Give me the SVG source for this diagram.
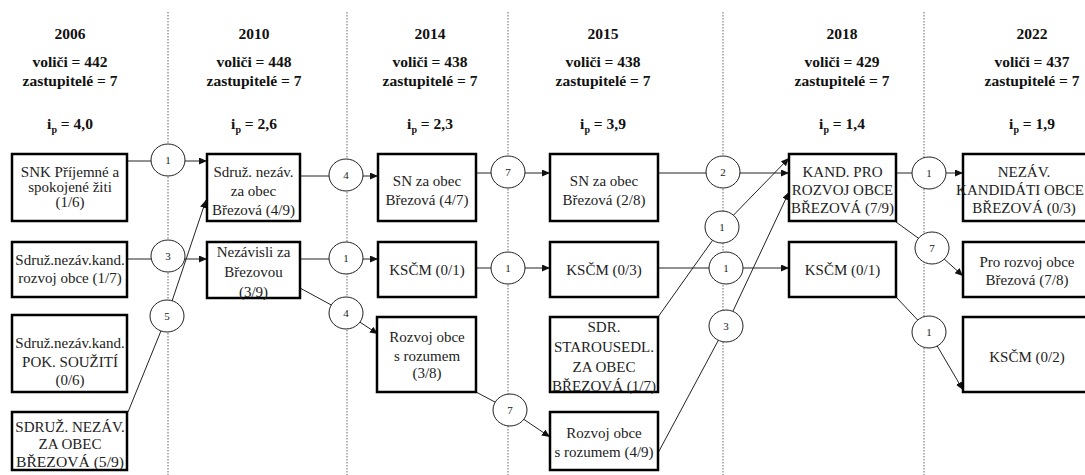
<svg xmlns="http://www.w3.org/2000/svg" width="1085" height="475" viewBox="0 0 1085 475">
<style>
.grid{stroke:#666;stroke-width:1;stroke-dasharray:1.5 1.5}
.box{fill:#fff;stroke:#000;stroke-width:2.5}
.c{fill:#fff;stroke:#222;stroke-width:1}
.ln{stroke:#222;stroke-width:1;fill:none}
.arr{marker-end:url(#ah)}
text{font-family:'Liberation Serif','DejaVu Serif',serif}
.t{font-size:15px;text-anchor:middle;fill:#222}
.h{font-size:15.5px;font-weight:bold;text-anchor:middle;fill:#111}
.ct{font-size:11px;text-anchor:middle;fill:#222}
</style>
<defs>
<marker id="ah" markerUnits="userSpaceOnUse" markerWidth="9" markerHeight="8" refX="8" refY="3.5" orient="auto">
<path d="M0,0 L8,3.5 L0,7 Z" fill="#111"/>
</marker>
</defs>
<rect width="1085" height="475" fill="#fff"/>
<g id="grid">
<line class="grid" x1="168" y1="12" x2="168" y2="475"/>
<line class="grid" x1="347" y1="12" x2="347" y2="475"/>
<line class="grid" x1="508" y1="12" x2="508" y2="475"/>
<line class="grid" x1="723" y1="12" x2="723" y2="475"/>
<line class="grid" x1="924" y1="12" x2="924" y2="475"/>
</g>
<g id="headers">
<text class="h" x="70" y="39">2006</text>
<text class="h" x="70" y="67">voliči = 442</text>
<text class="h" x="70" y="86">zastupitelé = 7</text>
<text class="h" x="70" y="129">i<tspan font-size="10" dy="4">p</tspan><tspan dy="-4"> = 4,0</tspan></text>
<text class="h" x="254" y="39">2010</text>
<text class="h" x="254" y="67">voliči = 448</text>
<text class="h" x="254" y="86">zastupitelé = 7</text>
<text class="h" x="254" y="129">i<tspan font-size="10" dy="4">p</tspan><tspan dy="-4"> = 2,6</tspan></text>
<text class="h" x="430" y="39">2014</text>
<text class="h" x="430" y="67">voliči = 438</text>
<text class="h" x="430" y="86">zastupitelé = 7</text>
<text class="h" x="430" y="129">i<tspan font-size="10" dy="4">p</tspan><tspan dy="-4"> = 2,3</tspan></text>
<text class="h" x="603" y="39">2015</text>
<text class="h" x="603" y="67">voliči = 438</text>
<text class="h" x="603" y="86">zastupitelé = 7</text>
<text class="h" x="603" y="129">i<tspan font-size="10" dy="4">p</tspan><tspan dy="-4"> = 3,9</tspan></text>
<text class="h" x="842" y="39">2018</text>
<text class="h" x="842" y="67">voliči = 429</text>
<text class="h" x="842" y="86">zastupitelé = 7</text>
<text class="h" x="842" y="129">i<tspan font-size="10" dy="4">p</tspan><tspan dy="-4"> = 1,4</tspan></text>
<text class="h" x="1032" y="39">2022</text>
<text class="h" x="1032" y="67">voliči = 437</text>
<text class="h" x="1032" y="86">zastupitelé = 7</text>
<text class="h" x="1032" y="129">i<tspan font-size="10" dy="4">p</tspan><tspan dy="-4"> = 1,9</tspan></text>
</g>
<g id="connectors">
<line class="ln" x1="127" y1="161" x2="168" y2="161"/>
<line class="ln arr" x1="168" y1="161" x2="207" y2="161"/>
<line class="ln" x1="127" y1="259" x2="168" y2="259"/>
<line class="ln arr" x1="168" y1="259" x2="207" y2="259"/>
<line class="ln" x1="128" y1="412" x2="167" y2="316"/>
<line class="ln arr" x1="167" y1="316" x2="206" y2="200"/>
<line class="ln" x1="300" y1="176" x2="346" y2="176"/>
<line class="ln arr" x1="346" y1="176" x2="378" y2="176"/>
<line class="ln" x1="300" y1="259" x2="346" y2="259"/>
<line class="ln arr" x1="346" y1="259" x2="378" y2="259"/>
<line class="ln" x1="300" y1="288" x2="346" y2="313"/>
<line class="ln arr" x1="346" y1="313" x2="378" y2="334"/>
<line class="ln" x1="476" y1="173" x2="508" y2="173"/>
<line class="ln arr" x1="508" y1="173" x2="550" y2="173"/>
<line class="ln" x1="476" y1="268" x2="508" y2="268"/>
<line class="ln arr" x1="508" y1="268" x2="550" y2="268"/>
<line class="ln" x1="476" y1="392" x2="510" y2="410"/>
<line class="ln arr" x1="510" y1="410" x2="550" y2="437"/>
<line class="ln" x1="658" y1="173" x2="723" y2="173"/>
<line class="ln arr" x1="723" y1="173" x2="789" y2="173"/>
<line class="ln" x1="658" y1="317" x2="722" y2="227"/>
<line class="ln arr" x1="722" y1="227" x2="789" y2="158"/>
<line class="ln" x1="658" y1="268" x2="726" y2="268"/>
<line class="ln arr" x1="726" y1="268" x2="789" y2="268"/>
<line class="ln" x1="658" y1="453" x2="726" y2="326"/>
<line class="ln arr" x1="726" y1="326" x2="789" y2="192"/>
<line class="ln" x1="896" y1="173" x2="929" y2="173"/>
<line class="ln arr" x1="929" y1="173" x2="963" y2="173"/>
<line class="ln" x1="896" y1="222" x2="932" y2="248"/>
<line class="ln arr" x1="932" y1="248" x2="963" y2="276"/>
<line class="ln" x1="896" y1="297" x2="929" y2="332"/>
<line class="ln arr" x1="929" y1="332" x2="963" y2="390"/>
<g id="flows">
<ellipse class="c" cx="168" cy="160" rx="17" ry="16"/><text class="ct" x="168" y="164">1</text>
<ellipse class="c" cx="168" cy="256" rx="17" ry="16"/><text class="ct" x="168" y="260">3</text>
<ellipse class="c" cx="167" cy="316" rx="17" ry="16"/><text class="ct" x="167" y="320">5</text>
<ellipse class="c" cx="346" cy="175" rx="17" ry="16"/><text class="ct" x="346" y="179">4</text>
<ellipse class="c" cx="346" cy="258" rx="17" ry="16"/><text class="ct" x="346" y="262">1</text>
<ellipse class="c" cx="346" cy="313" rx="17" ry="16"/><text class="ct" x="346" y="317">4</text>
<ellipse class="c" cx="508" cy="172" rx="17" ry="16"/><text class="ct" x="508" y="176">7</text>
<ellipse class="c" cx="508" cy="268" rx="17" ry="16"/><text class="ct" x="508" y="272">1</text>
<ellipse class="c" cx="510" cy="410" rx="17" ry="16"/><text class="ct" x="510" y="414">7</text>
<ellipse class="c" cx="723" cy="172" rx="17" ry="16"/><text class="ct" x="723" y="176">2</text>
<ellipse class="c" cx="722" cy="227" rx="17" ry="16"/><text class="ct" x="722" y="231">1</text>
<ellipse class="c" cx="726" cy="268" rx="17" ry="16"/><text class="ct" x="726" y="272">1</text>
<ellipse class="c" cx="726" cy="326" rx="17" ry="16"/><text class="ct" x="726" y="330">3</text>
<ellipse class="c" cx="929" cy="173" rx="17" ry="16"/><text class="ct" x="929" y="177">1</text>
<ellipse class="c" cx="932" cy="248" rx="17" ry="16"/><text class="ct" x="932" y="252">7</text>
<ellipse class="c" cx="929" cy="332" rx="17" ry="16"/><text class="ct" x="929" y="336">1</text>
</g>
</g>
<g id="n2006a"><rect class="box" x="12" y="154" width="115" height="67"/>
<text class="t" x="70" y="177">SNK Příjemné a</text><text class="t" x="70" y="192">spokojené žiti</text><text class="t" x="70" y="207">(1/6)</text></g>
<g id="n2006b"><rect class="box" x="12" y="242" width="115" height="55"/>
<text class="t" x="70" y="265">Sdruž.nezáv.kand.</text><text class="t" x="70" y="283">rozvoj obce (1/7)</text></g>
<g id="n2006c"><rect class="box" x="12" y="315" width="115" height="77"/>
<text class="t" x="70" y="348">Sdruž.nezáv.kand.</text><text class="t" x="70" y="367">POK. SOUŽITÍ</text><text class="t" x="70" y="385">(0/6)</text></g>
<g id="n2006d"><rect class="box" x="12" y="412" width="115" height="58"/>
<text class="t" x="70" y="432">SDRUŽ. NEZÁV.</text><text class="t" x="70" y="449">ZA OBEC</text><text class="t" x="70" y="467" textLength="108" lengthAdjust="spacingAndGlyphs">BŘEZOVÁ (5/9)</text></g>
<g id="n2010a"><rect class="box" x="207" y="154" width="93" height="67"/>
<text class="t" x="253.5" y="177">Sdruž. nezáv.</text><text class="t" x="253.5" y="196">za obec</text><text class="t" x="253.5" y="215">Březová (4/9)</text></g>
<g id="n2010b"><rect class="box" x="207" y="242" width="93" height="56"/>
<text class="t" x="253.5" y="257">Nezávisli za</text><text class="t" x="253.5" y="277">Březovou</text><text class="t" x="253.5" y="297">(3/9)</text></g>
<g id="n2014a"><rect class="box" x="378" y="154" width="98" height="67"/>
<text class="t" x="427" y="186">SN za obec</text><text class="t" x="427" y="205">Březová (4/7)</text></g>
<g id="n2014b"><rect class="box" x="378" y="242" width="98" height="55"/>
<text class="t" x="427" y="275">KSČM (0/1)</text></g>
<g id="n2014c"><rect class="box" x="377" y="317" width="99" height="75"/>
<text class="t" x="427" y="342">Rozvoj obce</text><text class="t" x="427" y="361">s rozumem</text><text class="t" x="427" y="378">(3/8)</text></g>
<g id="n2015a"><rect class="box" x="550" y="154" width="108" height="67"/>
<text class="t" x="604" y="186">SN za obec</text><text class="t" x="604" y="205">Březová (2/8)</text></g>
<g id="n2015b"><rect class="box" x="550" y="242" width="108" height="55"/>
<text class="t" x="604" y="275">KSČM (0/3)</text></g>
<g id="n2015c"><rect class="box" x="550" y="317" width="108" height="75"/>
<text class="t" x="604" y="332">SDR.</text><text class="t" x="604" y="352">STAROUSEDL.</text><text class="t" x="604" y="372">ZA OBEC</text><text class="t" x="604" y="391" textLength="104" lengthAdjust="spacingAndGlyphs">BŘEZOVÁ (1/7)</text></g>
<g id="n2015d"><rect class="box" x="550" y="412" width="108" height="58"/>
<text class="t" x="604" y="438">Rozvoj obce</text><text class="t" x="604" y="457">s rozumem (4/9)</text></g>
<g id="n2018a"><rect class="box" x="789" y="154" width="107" height="67"/>
<text class="t" x="842.5" y="177">KAND. PRO</text><text class="t" x="842.5" y="195">ROZVOJ OBCE</text><text class="t" x="842.5" y="213" textLength="103" lengthAdjust="spacingAndGlyphs">BŘEZOVÁ (7/9)</text></g>
<g id="n2018b"><rect class="box" x="789" y="242" width="107" height="55"/>
<text class="t" x="842.5" y="275">KSČM (0/1)</text></g>
<g id="n2022a"><rect class="box" x="963" y="154" width="130" height="67"/>
<text class="t" x="1024" y="177">NEZÁV.</text><text class="t" x="1020" y="195" font-size="13.5">KANDIDÁTI OBCE</text><text class="t" x="1024" y="213">BŘEZOVÁ (0/3)</text></g>
<g id="n2022b"><rect class="box" x="963" y="242" width="130" height="55"/>
<text class="t" x="1027" y="267">Pro rozvoj obce</text><text class="t" x="1027" y="285">Březová (7/8)</text></g>
<g id="n2022c"><rect class="box" x="963" y="317" width="130" height="75"/>
<text class="t" x="1027" y="362">KSČM (0/2)</text></g>
</svg>
